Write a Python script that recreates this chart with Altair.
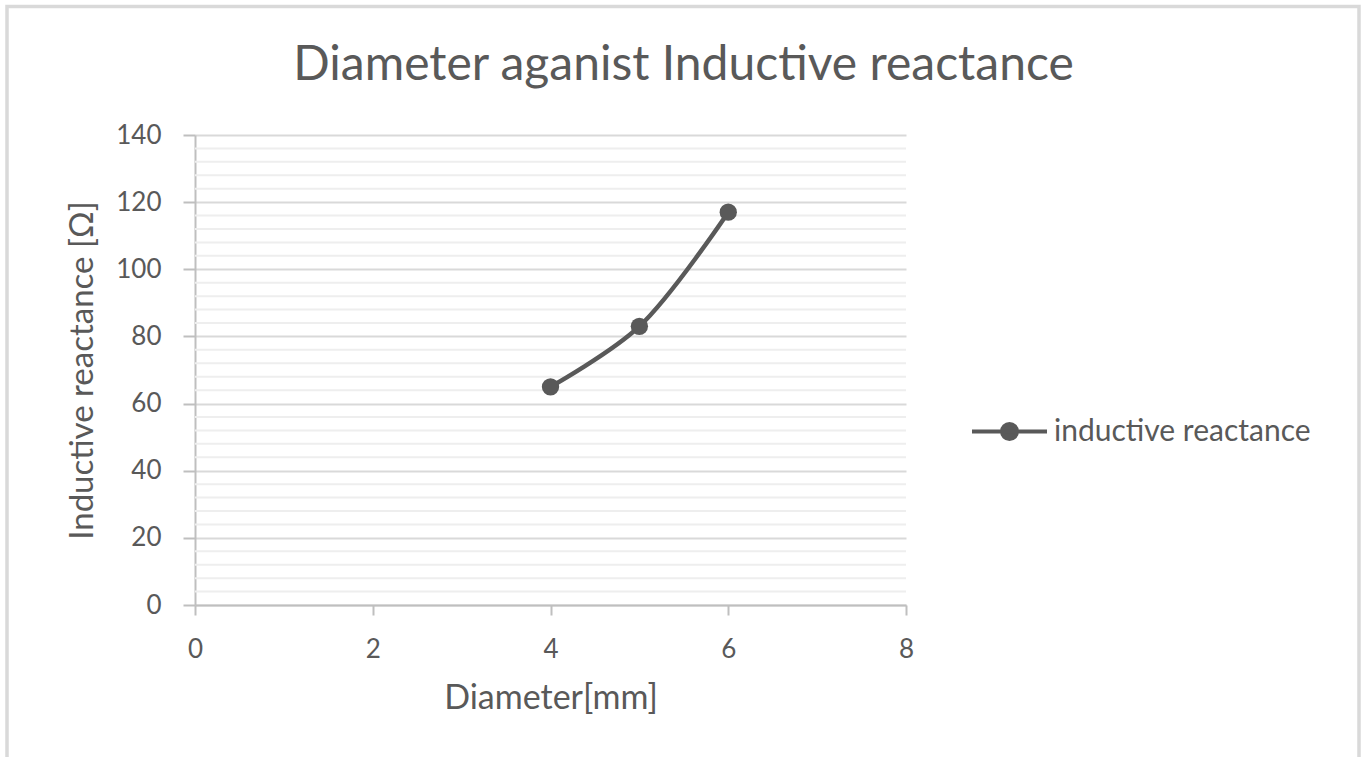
import altair as alt
import pandas as pd

# ---- data ----
diameter = [4, 5, 6]
reactance = [65, 83, 117]
series_name = ["inductive reactance", "inductive reactance", "inductive reactance"]
x_ticks = [0, 2, 4, 6, 8]
y_ticks = [0, 20, 40, 60, 80, 100, 120, 140]
y_minor = [4, 8, 12, 16, 24, 28, 32, 36, 44, 48, 52, 56, 64, 68, 72, 76,
           84, 88, 92, 96, 104, 108, 112, 116, 124, 128, 132, 136]

df = pd.DataFrame({"Diameter": diameter, "Reactance": reactance, "series": series_name})
minor_df = pd.DataFrame({"Reactance": y_minor})

TXT = "#595959"
LINE = "#595959"
FONT = "Lato"
W, H = 711, 470

xs = alt.Scale(domain=[0, 8], nice=False)
ys = alt.Scale(domain=[0, 140], nice=False)

x_axis = alt.Axis(values=x_ticks, grid=False, domainColor="#bfbfbf", domainWidth=2,
                  tickColor="#bfbfbf", tickWidth=2, tickSize=10, labelFlush=False,
                  labelFont=FONT, labelFontSize=26, labelColor=TXT, labelPadding=21,
                  title="Diameter[mm]", titleFont=FONT, titleFontSize=34,
                  titleFontWeight="normal", titleColor=TXT, titlePadding=19)
y_axis = alt.Axis(values=y_ticks, grid=True, gridColor="#d9d9d9", gridWidth=2,
                  domainColor="#bfbfbf", domainWidth=2, labelFlush=False,
                  tickColor="#bfbfbf", tickWidth=2, tickSize=12,
                  labelFont=FONT, labelFontSize=26, labelColor=TXT, labelPadding=22,
                  title="Inductive reactance [Ω]", titleFont=FONT, titleFontSize=33,
                  titleFontWeight="normal", titleColor=TXT, titlePadding=16)

minor = alt.Chart(minor_df).mark_rule(color="#eeeeee", strokeWidth=2).encode(
    y=alt.Y("Reactance:Q", scale=ys),
    x=alt.value(0), x2=alt.value("width"))

base = alt.Chart(df)
line = base.mark_line(interpolate="catmull-rom", color=LINE, strokeWidth=4.5).encode(
    x=alt.X("Diameter:Q", scale=xs, axis=x_axis),
    y=alt.Y("Reactance:Q", scale=ys, axis=y_axis))

LEG_PATH = ("M-1,0L1,0M-0.2,0A0.2,0.2,0,1,0,0.2,0"
            "A0.2,0.2,0,1,0,-0.2,0Z")
pts = base.mark_circle(size=300, opacity=1).encode(
    x=alt.X("Diameter:Q", scale=xs, axis=x_axis),
    y=alt.Y("Reactance:Q", scale=ys, axis=y_axis),
    color=alt.Color("series:N", scale=alt.Scale(range=[LINE]),
                    legend=alt.Legend(title=None, orient="none", legendX=775, legendY=257,
                                      symbolType=LEG_PATH, symbolSize=5625,
                                      symbolStrokeWidth=4, symbolStrokeColor=LINE,
                                      symbolFillColor=LINE, symbolOpacity=1,
                                      labelFont=FONT, labelFontSize=30, labelColor=TXT,
                                      labelOffset=5, labelLimit=0, padding=0)))

border = alt.Chart(alt.Data(values=[{}])).mark_rect(
    fillOpacity=0, stroke="#d9d9d9", strokeWidth=3.5).encode(
    x=alt.value(-188), x2=alt.value(1164), y=alt.value(-128.5), y2=alt.value(700))

chart = alt.layer(border, minor, line, pts).properties(
    width=W, height=H,
    title=alt.Title("Diameter aganist Inductive reactance", fontSize=48, font=FONT,
                    fontWeight="normal", color=TXT, anchor="middle", dx=133,
                    baseline="alphabetic", offset=-123),
    autosize=alt.AutoSizeParams(type="none"),
    padding={"left": 195, "top": 135, "right": 460, "bottom": 152},
    background="white",
).configure_view(stroke=None)

chart.save("out.html", embed_options={"renderer": "svg", "actions": False})
